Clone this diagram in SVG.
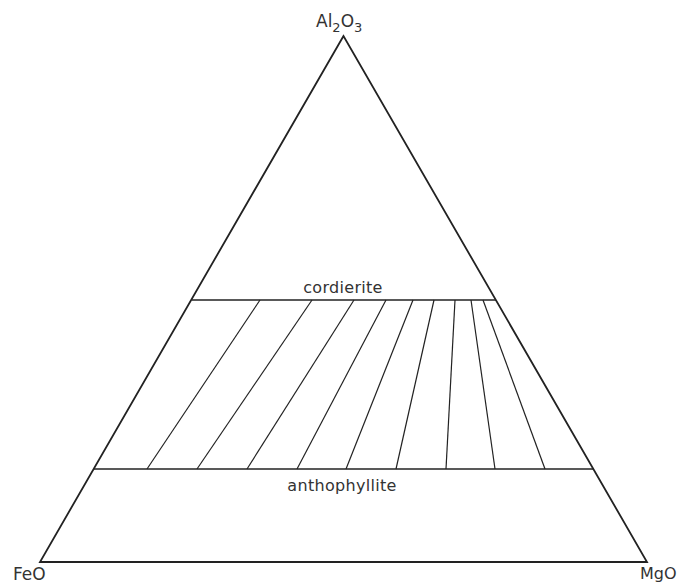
<svg xmlns="http://www.w3.org/2000/svg" width="679" height="583" viewBox="0 0 679 583">
<style>
.edge{fill:none;stroke:#222;stroke-width:1.8;stroke-linejoin:miter}
.phase{stroke:#222;stroke-width:1.6}
.tie{stroke:#222;stroke-width:1.2}
text{font-family:"DejaVu Sans","Liberation Sans",sans-serif;fill:#333}
.lbl{font-size:16px;text-anchor:middle;letter-spacing:0.3px}
.corner{font-size:17px}
</style>
<rect width="679" height="583" fill="#fff"/>
<g id="triangle">
<polygon class="edge" points="343.5,36 40,562 647,562"/>
</g>
<g id="apex-Al2O3"><text class="corner" x="316" y="27">Al<tspan font-size="13" dy="5">2</tspan><tspan dy="-5">O</tspan><tspan font-size="13" dy="5">3</tspan></text></g>
<g id="corner-FeO"><text class="corner" x="13" y="580">FeO</text></g>
<g id="corner-MgO"><text class="corner" x="640" y="579" font-size="16" style="font-size:16px">MgO</text></g>
<g id="cordierite">
<line class="phase" x1="192" y1="300" x2="496" y2="300"/>
<text class="lbl" x="343" y="293">cordierite</text>
</g>
<g id="anthophyllite">
<line class="phase" x1="94" y1="469" x2="594" y2="469"/>
<text class="lbl" x="342" y="491">anthophyllite</text>
</g>
<g id="tie-lines">
<line class="tie" x1="260" y1="300" x2="147" y2="469"/>
<line class="tie" x1="312" y1="300" x2="197" y2="469"/>
<line class="tie" x1="354" y1="300" x2="247" y2="469"/>
<line class="tie" x1="386" y1="300" x2="297" y2="469"/>
<line class="tie" x1="413" y1="300" x2="346" y2="469"/>
<line class="tie" x1="434" y1="300" x2="396" y2="469"/>
<line class="tie" x1="455" y1="300" x2="446" y2="469"/>
<line class="tie" x1="471" y1="300" x2="495" y2="469"/>
<line class="tie" x1="483" y1="300" x2="545" y2="469"/>
</g>
</svg>
